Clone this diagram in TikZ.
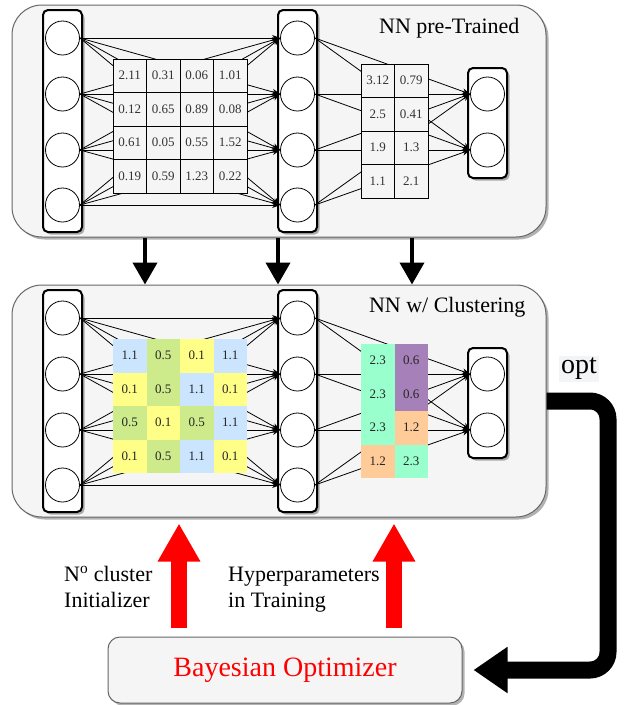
\documentclass[tikz,border=0pt]{standalone}
\usepackage{fontspec}
\setmainfont{Liberation Serif}
\usetikzlibrary{arrows.meta,shadows}

\definecolor{panelfill}{HTML}{F5F5F5}
\definecolor{paneldraw}{HTML}{666666}
\definecolor{optfill}{HTML}{F3F4F5}
\definecolor{cblue}{HTML}{CCE5FF}
\definecolor{cgreen}{HTML}{CDEB8B}
\definecolor{cyellow}{HTML}{FFFF88}
\definecolor{cmint}{HTML}{99FFCC}
\definecolor{cpurple}{HTML}{A680B8}
\definecolor{cpeach}{HTML}{FFCC99}

\tikzset{
  shade/.style={drop shadow={shadow xshift=2.5pt,shadow yshift=-2.5pt,fill=black,opacity=0.3}},
  panel/.style={draw=paneldraw,fill=panelfill,line width=1pt,rounded corners=30pt,inner sep=0pt,shade},
  layerbox/.style={draw,fill=white,line width=2pt,rounded corners=5pt,inner sep=0pt,minimum width=39pt,shade},
  neuron/.style={draw,circle,fill=white,line width=0.8pt,minimum size=34pt,inner sep=0pt},
  wire/.style={line width=0.8pt,-{Stealth[length=8pt,width=6pt]}},
  cell/.style={draw,fill=panelfill,line width=1pt,minimum size=33.5pt,inner sep=0pt,text=black!80,font=\fontsize{13}{15}\selectfont},
  ccell/.style={minimum size=33.5pt,inner sep=0pt,text=black!85,font=\fontsize{13}{15}\selectfont},
  title/.style={anchor=base east,font=\fontsize{22}{26}\selectfont},
  note/.style={anchor=north west,align=left,inner sep=0pt,font=\fontsize{22}{26}\selectfont},
  feed/.style={line width=4pt,-{Triangle[width=24pt,length=22pt]}},
  tune/.style={red,line width=16pt,-{Triangle[width=40pt,length=38pt]}},
  backarrow/.style={line width=17pt,rounded corners=18pt,-{Triangle[width=44pt,length=34pt]}}
}

\begin{document}
\begin{tikzpicture}[x=1pt,y=-1pt]
  \useasboundingbox (0,0) rectangle (624,705);

  % panels
  \node[panel,minimum width=534pt,minimum height=232pt] (pre) at (279,121) {};
  \node[panel,minimum width=534pt,minimum height=232pt] (clu) at (279,401) {};

  % layers and weights of both nets
  \foreach \p/\dy in {p/0,c/280} {
    \node[layerbox,minimum height=222pt] (\p-inp) at (62.5,{121+\dy}) {};
    \node[layerbox,minimum height=222pt] (\p-hid) at (297.5,{121+\dy}) {};
    \node[layerbox,minimum height=110pt] (\p-out) at (487.5,{123+\dy}) {};
    \foreach \i/\y in {1/38,2/94,3/150,4/205} {
      \node[neuron] (\p-i\i) at (62.5,{\y+\dy}) {};
      \node[neuron] (\p-h\i) at (297.5,{\y+\dy}) {};
    }
    \node[neuron] (\p-o1) at (487.5,{94+\dy}) {};
    \node[neuron] (\p-o2) at (487.5,{150+\dy}) {};
    \foreach \i in {1,...,4} {
      \foreach \j in {1,...,4}
        \draw[wire] (\p-i\i.east) -- (\p-h\j.west);
      \foreach \j in {1,2}
        \draw[wire] (\p-h\i.east) -- (\p-o\j.west);
    }
  }

  % pre-trained weights
  \foreach \row [count=\r] in {{2.11,0.31,0.06,1.01},{0.12,0.65,0.89,0.08},{0.61,0.05,0.55,1.52},{0.19,0.59,1.23,0.22}}
    \foreach \v [count=\c] in \row
      \node[cell] (pw-\r-\c) at ({96.25+33.5*\c},{42.25+33.5*\r}) {\v};
  \foreach \row [count=\r] in {{3.12,0.79},{2.5,0.41},{1.9,1.3},{1.1,2.1}}
    \foreach \v [count=\c] in \row
      \node[cell] (pv-\r-\c) at ({344.25+33.5*\c},{47.25+33.5*\r}) {\v};

  % clustered weights
  \foreach \row [count=\r] in {{1.1/cblue,0.5/cgreen,0.1/cyellow,1.1/cblue},{0.1/cyellow,0.5/cgreen,1.1/cblue,0.1/cyellow},{0.5/cgreen,0.1/cyellow,0.5/cgreen,1.1/cblue},{0.1/cyellow,0.5/cgreen,1.1/cblue,0.1/cyellow}}
    \foreach \v/\col [count=\c] in \row
      \node[ccell,fill=\col] (cw-\r-\c) at ({96.25+33.5*\c},{322.25+33.5*\r}) {\v};
  \foreach \row [count=\r] in {{2.3/cmint,0.6/cpurple},{2.3/cmint,0.6/cpurple},{2.3/cmint,1.2/cpeach},{1.2/cpeach,2.3/cmint}}
    \foreach \v/\col [count=\c] in \row
      \node[ccell,fill=\col] (cv-\r-\c) at ({344.25+33.5*\c},{327.25+33.5*\r}) {\v};

  \node[title] (tpre) at (523,33) {NN pre-Trained};
  \node[title] (tclu) at (529,312) {NN w/ Clustering};

  % pre-trained -> clustering
  \coordinate (d1) at (145,238);
  \coordinate (d2) at (278,238);
  \coordinate (d3) at (412,238);
  \draw[feed] (d1) -- (d1 |- clu.north);
  \draw[feed] (d2) -- (d2 |- clu.north);
  \draw[feed] (d3) -- (d3 |- clu.north);

  % optimizer
  \node[panel,rounded corners=12pt,minimum width=354pt,minimum height=66pt,text=red,font=\fontsize{28}{32}\selectfont] (bayes) at (285,670) {Bayesian Optimizer};
  \coordinate (u1) at (179,637);
  \coordinate (u2) at (394,637);
  \draw[tune,shorten <=9pt,shorten >=6pt] (u1) -- (u1 |- clu.south);
  \draw[tune,shorten <=9pt,shorten >=6pt] (u2) -- (u2 |- clu.south);
  \node[note] (ncl) at (64,566) {N\textsuperscript{o} cluster\\Initializer};
  \node[note] (nhp) at (228,567) {Hyperparameters\\in Training};

  \coordinate (r1) at (608,401);
  \draw[backarrow,shorten >=11pt] (clu.east) -- (r1) |- (bayes.east);
  \node[fill=optfill,inner sep=2pt,font=\fontsize{28}{32}\selectfont] (opt) at (579,369) {opt};
\end{tikzpicture}
\end{document}
